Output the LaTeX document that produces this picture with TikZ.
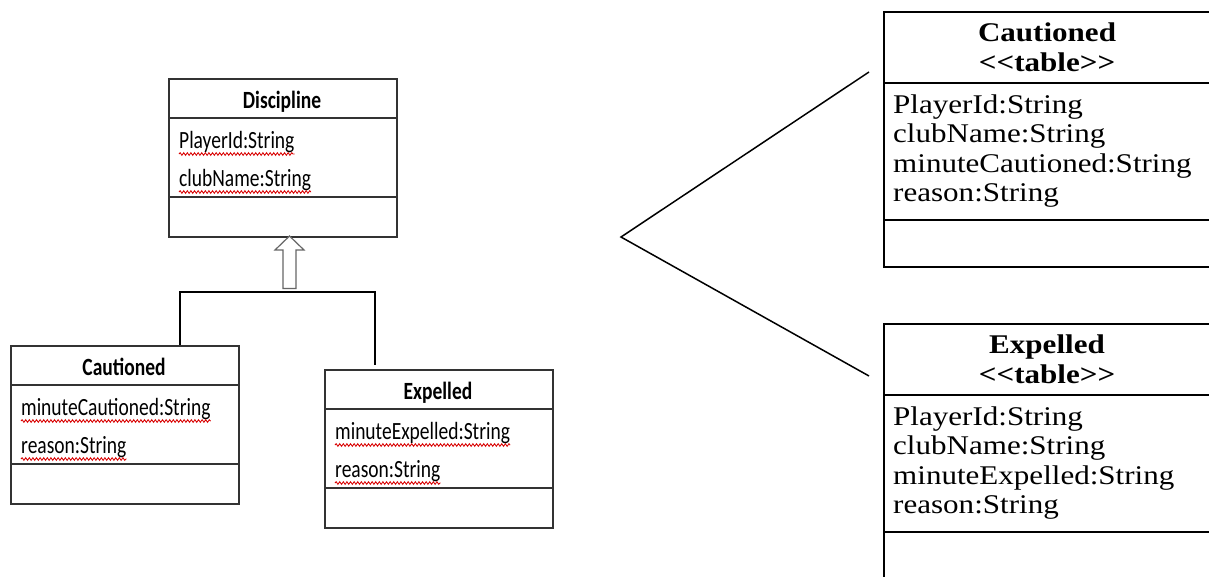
\documentclass[tikz,border=0pt]{standalone}
\usepackage{fontspec}
\usepackage{graphicx}
\setmainfont{Liberation Serif}
\newfontfamily\calfont{Carlito}
\usetikzlibrary{decorations.pathmorphing,calc}
\newcommand{\ltxt}[1]{\scalebox{1}[1.27]{\calfont\fontsize{19.5}{22}\selectfont #1}}
\newcommand{\rtxt}[1]{\scalebox{1.15}[1]{\fontsize{27}{30}\selectfont #1}}
\tikzset{
  lbox/.style={draw=black!80, line width=1.8pt, anchor=north west, inner sep=0pt, minimum width=228pt, minimum height=158pt},
  ldiv/.style={draw=black!80, line width=1.6pt},
  rbox/.style={draw=black, line width=2pt},
  rdiv/.style={draw=black, line width=1.3pt},
  txt/.style={inner sep=0pt, anchor=base west},
  ttl/.style={inner sep=0pt, anchor=base},
  conn/.style={draw=black, line width=1.4pt},
  squig/.style={draw=red!85!black, line width=0.85pt, decorate, decoration={snake, segment length=3.6pt, amplitude=1.3pt}},
  hollow/.style={draw=black!60, line width=1.2pt, fill=white, line join=miter}
}
\begin{document}
\begin{tikzpicture}[x=1pt,y=-1pt]
\useasboundingbox (0,0) rectangle (1209,576);
\fill[white] (0,0) rectangle (1209,576);

% ---------- left UML diagram ----------
\node[lbox] (disc) at (168,78) {};
\draw[ldiv] ([yshift=-40pt]disc.north west) -- ([yshift=-40pt]disc.north east);
\draw[ldiv] ([yshift=-119pt]disc.north west) -- ([yshift=-119pt]disc.north east);
\node[ttl] (discT) at (282,108) {\ltxt{\bfseries Discipline}};
\node[txt] (discA) at (179,148) {\ltxt{PlayerId:String}};
\node[txt] (discB) at (179,186) {\ltxt{clubName:String}};
\draw[squig] ($(discA.base west)+(0,6)$) -- ($(discA.base east)+(0,6)$);
\draw[squig] ($(discB.base west)+(0,6)$) -- ($(discB.base east)+(0,6)$);

\node[lbox] (cautL) at (10,345) {};
\draw[ldiv] ([yshift=-40pt]cautL.north west) -- ([yshift=-40pt]cautL.north east);
\draw[ldiv] ([yshift=-119pt]cautL.north west) -- ([yshift=-119pt]cautL.north east);
\node[ttl] (cautLT) at (124,375) {\ltxt{\bfseries Cautioned}};
\node[txt] (cautLA) at (21,415) {\ltxt{minuteCautioned:String}};
\node[txt] (cautLB) at (21,453) {\ltxt{reason:String}};
\draw[squig] ($(cautLA.base west)+(0,6)$) -- ($(cautLA.base east)+(0,6)$);
\draw[squig] ($(cautLB.base west)+(0,6)$) -- ($(cautLB.base east)+(0,6)$);

\node[lbox] (expL) at (324,369) {};
\draw[ldiv] ([yshift=-40pt]expL.north west) -- ([yshift=-40pt]expL.north east);
\draw[ldiv] ([yshift=-119pt]expL.north west) -- ([yshift=-119pt]expL.north east);
\node[ttl] (expLT) at (438,399) {\ltxt{\bfseries Expelled}};
\node[txt] (expLA) at (335,439) {\ltxt{minuteExpelled:String}};
\node[txt] (expLB) at (335,477) {\ltxt{reason:String}};
\draw[squig] ($(expLA.base west)+(0,6)$) -- ($(expLA.base east)+(0,6)$);
\draw[squig] ($(expLB.base west)+(0,6)$) -- ($(expLB.base east)+(0,6)$);

% generalisation connector
\coordinate (jl) at (180,292);
\coordinate (jr) at (375,292);
\draw[conn] (jl |- cautL.north) -- (jl) -- (jr) -- ($(jr |- expL.north)+(0,-4)$);
\draw[hollow] (283,288.5) -- (283,250) -- (275,250) -- (289.5,236) -- (304,250) -- (296,250) -- (296,288.5) -- cycle;

% ---------- mapping lines ----------
\coordinate (v) at (621,237);
\coordinate (e1) at (869,72);
\coordinate (e2) at (869,376);
\draw[conn, line width=1.5pt] (e1) -- (v) -- (e2);

% ---------- right tables ----------
\node[inner sep=0pt, anchor=north west, minimum width=330pt, minimum height=255pt, rbox] (cautR) at (883,11) {};
\draw[rdiv] (883,83) -- (1213,83);
\draw[rdiv] (883,220) -- (1213,220);
\node[ttl] (cautRT1) at (1047,41) {\rtxt{\bfseries Cautioned}};
\node[ttl] (cautRT2) at (1047,71) {\rtxt{\bfseries <{}<table>{}>}};
\node[txt] (cautR1) at (893,113) {\rtxt{PlayerId:String}};
\node[txt] (cautR2) at (893,142.5) {\rtxt{clubName:String}};
\node[txt] (cautR3) at (893,172) {\rtxt{minuteCautioned:String}};
\node[txt] (cautR4) at (893,201.5) {\rtxt{reason:String}};

\node[inner sep=0pt, anchor=north west, minimum width=330pt, minimum height=262pt, rbox] (expR) at (883,323) {};
\draw[rdiv] (883,395) -- (1213,395);
\draw[rdiv] (883,532) -- (1213,532);
\node[ttl] (expRT1) at (1047,353) {\rtxt{\bfseries Expelled}};
\node[ttl] (expRT2) at (1047,383) {\rtxt{\bfseries <{}<table>{}>}};
\node[txt] (expR1) at (893,425) {\rtxt{PlayerId:String}};
\node[txt] (expR2) at (893,454.5) {\rtxt{clubName:String}};
\node[txt] (expR3) at (893,484) {\rtxt{minuteExpelled:String}};
\node[txt] (expR4) at (893,513.5) {\rtxt{reason:String}};
\end{tikzpicture}
\end{document}
